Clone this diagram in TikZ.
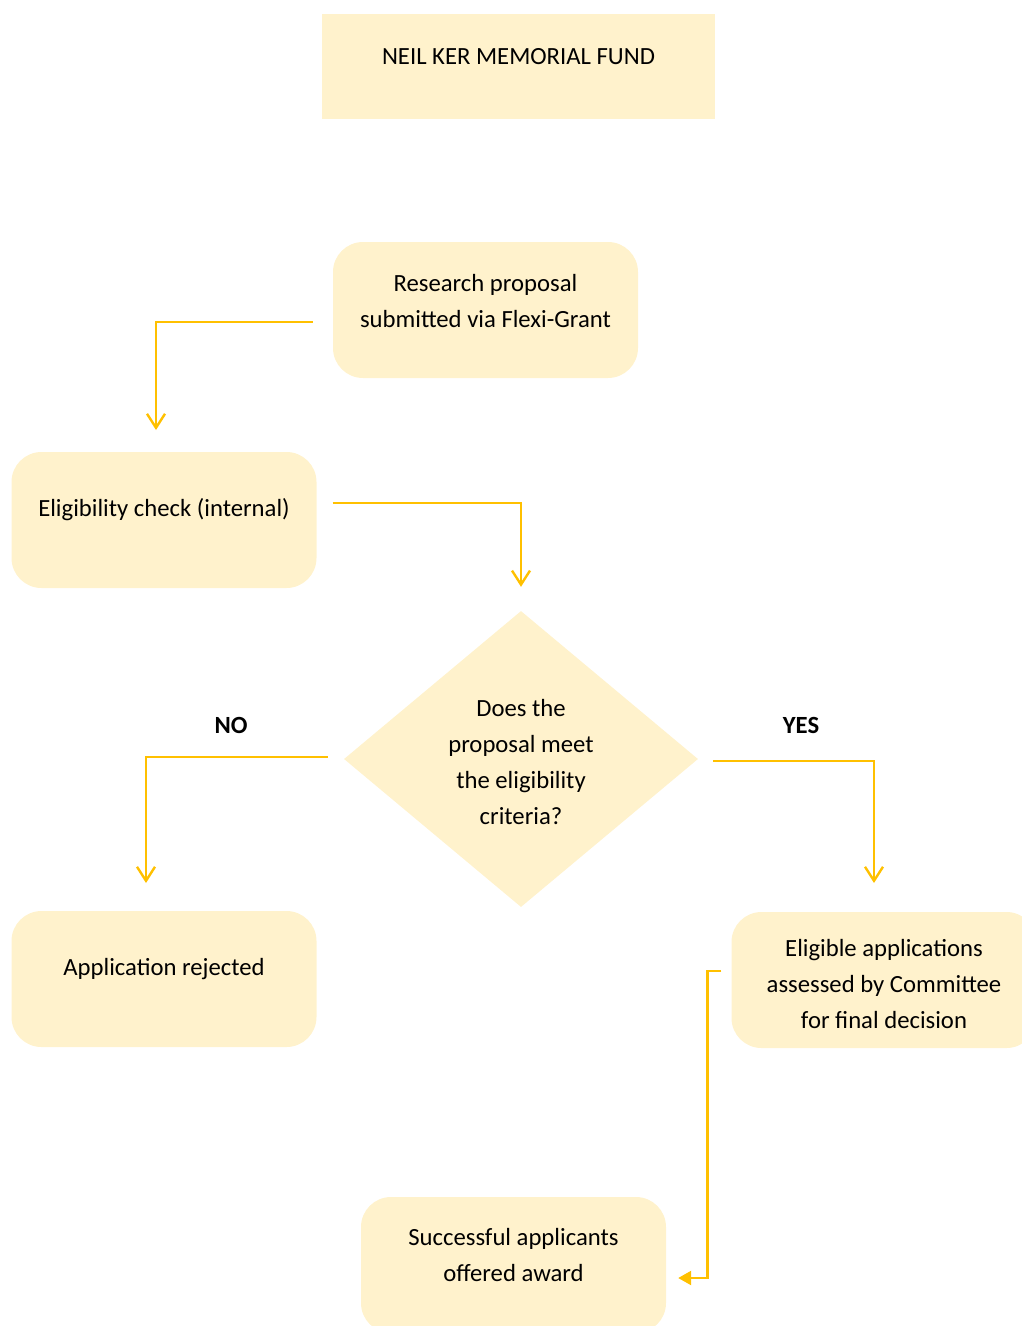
\documentclass[tikz,border=0pt]{standalone}
\usepackage{fontspec}
\setmainfont{Carlito}
\usetikzlibrary{arrows.meta,shapes.geometric}
\definecolor{boxfill}{HTML}{FFF2CC}
\definecolor{linecol}{HTML}{FFC000}
\tikzset{
  x=1pt,y=-1pt,
  rbox/.style={fill=boxfill,draw=none,rounded corners=30pt,minimum width=305pt,minimum height=136pt,inner sep=0pt},
  txt/.style={align=center,font=\fontsize{24.7}{36}\selectfont,inner sep=0pt,text=black},
  flow/.style={draw=linecol,line width=2.4pt,-{Straight Barb[length=14pt,width=18pt,line width=2.4pt]}},
  flowfill/.style={draw=linecol,line width=2.4pt,-{Triangle[length=13pt,width=14pt]}},
  lab/.style={font=\fontsize{24.7}{28}\selectfont\bfseries,inner sep=0pt}
}
\begin{document}
\begin{tikzpicture}
\useasboundingbox (0,0) rectangle (1022,1326);
% title
\node[fill=boxfill,minimum width=393pt,minimum height=105pt,inner sep=0pt] (title) at (518.5,66.5) {};
\node[txt] (titlet) at (518.5,57) {NEIL KER MEMORIAL FUND};
% boxes
\node[rbox] (res) at (485.5,310) {};
\node[txt] (rest) at (485.5,301) {Research proposal\\submitted via Flexi-Grant};
\node[rbox] (elig) at (164,520) {};
\node[txt] (eligt) at (164,510) {Eligibility check (internal)};
\node[diamond,fill=boxfill,minimum width=354pt,minimum height=296pt,inner sep=0pt,aspect=1.2] (dec) at (521,759) {};
\node[txt] (dect) at (521,762) {Does the\\proposal meet\\the eligibility\\criteria?};
\node[rbox] (rej) at (164,979) {};
\node[txt] (rejt) at (164,969) {Application rejected};
\node[rbox] (ass) at (884,980) {};
\node[txt] (asst) at (884,984) {Eligible applications\\assessed by Committee\\for final decision};
\node[rbox] (suc) at (513.5,1265) {};
\node[txt] (suct) at (513.5,1255) {Successful applicants\\offered award};
% labels
\node[lab] (no) at (231,725) {NO};
\node[lab] (yes) at (801,725) {YES};
% connectors
\coordinate (s1) at ([xshift=-20pt,yshift=-12pt]res.west);
\coordinate (e1) at (156,430);
\draw[flow] (s1) -| (e1);
\coordinate (s2) at ([xshift=16pt,yshift=17pt]elig.east);
\coordinate (e2) at ([yshift=24pt]dec.north);
\draw[flow] (s2) -| (e2);
\coordinate (s3) at ([xshift=-16pt,yshift=2pt]dec.west);
\coordinate (e3) at (146,883);
\draw[flow] (s3) -| (e3);
\coordinate (s4) at ([xshift=15pt,yshift=-2pt]dec.east);
\coordinate (e4) at (874,883);
\draw[flow] (s4) -| (e4);
\coordinate (s5) at ([xshift=-10pt,yshift=9pt]ass.west);
\coordinate (e5) at ([xshift=12pt,yshift=-13pt]suc.east);
\draw[flowfill] (s5) -- ++(-14,0) |- (e5);
\end{tikzpicture}
\end{document}
